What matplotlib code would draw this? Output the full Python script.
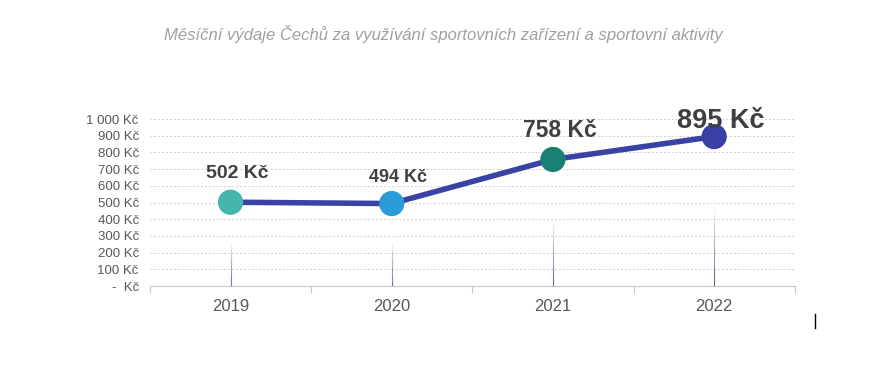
import matplotlib.pyplot as plt
import numpy as np
from matplotlib.collections import LineCollection
from matplotlib.lines import Line2D

plt.rcParams['font.family'] = ['Liberation Sans', 'DejaVu Sans']

# data
years = ['2019', '2020', '2021', '2022']
values = [502, 494, 758, 895]
labels = ['502 Kč', '494 Kč', '758 Kč', '895 Kč']
label_sizes = [14, 13, 16.5, 19.5]
point_colors = ['#45B5AE', '#2A9BD8', '#1B7F73', '#3A3FA6']
y_ticks = [0, 100, 200, 300, 400, 500, 600, 700, 800, 900, 1000]
y_tick_labels = ['-  Kč', '100 Kč', '200 Kč', '300 Kč', '400 Kč', '500 Kč',
                 '600 Kč', '700 Kč', '800 Kč', '900 Kč', '1 000 Kč']
title = 'Měsíční výdaje Čechů za využívání sportovních zařízení a sportovní aktivity'

fig = plt.figure(figsize=(8.87, 3.72), dpi=100)
ax = fig.add_axes([0.169, 0.231, 0.727, 0.449])

x = np.arange(len(years))

# grid
ax.set_ylim(0, 1000)
ax.set_xlim(-0.5, len(years) - 0.5)
for t in y_ticks[1:]:
    ax.axhline(t, color='#D0D0D0', lw=0.7, ls=(0, (2, 2)), zorder=0)

# drop lines fading upward
for xi, v in zip(x, values):
    top = v * 0.55
    ys = np.linspace(0, top, 30)
    segs = [[(xi, ys[i]), (xi, ys[i + 1])] for i in range(len(ys) - 1)]
    alphas = np.linspace(0.85, 0.0, len(segs))
    cols = [(0.23, 0.25, 0.5, a) for a in alphas]
    ax.add_collection(LineCollection(segs, colors=cols, linewidths=0.8, zorder=1))

ax.plot(x, values, color='#3A43A3', lw=4, zorder=2, solid_capstyle='round')
ax.scatter(x, values, s=330, c=point_colors, zorder=3, edgecolors='none')

offsets = [(4.5, 21), (4.5, 19), (5, 21), (5, 11)]
for xi, v, lab, fs, off in zip(x, values, labels, label_sizes, offsets):
    ax.annotate(lab, (xi, v), xytext=off, textcoords='offset points',
                ha='center', va='center', fontsize=fs, fontweight='bold',
                color='#404040', zorder=4)

# axes styling
for s in ['top', 'right', 'left']:
    ax.spines[s].set_visible(False)
ax.spines['bottom'].set_color('#C8C8C8')
ax.set_xticks(np.arange(-0.5, len(years), 1.0), minor=False)
ax.set_xticklabels([])
ax.tick_params(axis='x', which='major', length=5, color='#C8C8C8')
ax.set_xticks(x, minor=True)
ax.set_xticklabels(years, minor=True)
ax.tick_params(axis='x', which='minor', length=0, labelsize=12,
               labelcolor='#595959', pad=9)
ax.set_yticks(y_ticks)
ax.set_yticklabels(y_tick_labels)
ax.tick_params(axis='y', length=0, labelsize=9.5, labelcolor='#595959', pad=8)

fig.text(0.5, 0.908, title, ha='center', va='center', fontsize=12,
         style='italic', color='#A0A0A0')

# small cursor mark at bottom right
fig.add_artist(Line2D([0.919, 0.919], [0.118, 0.155], color='black', lw=1))

fig.savefig('out.png', dpi=100)
